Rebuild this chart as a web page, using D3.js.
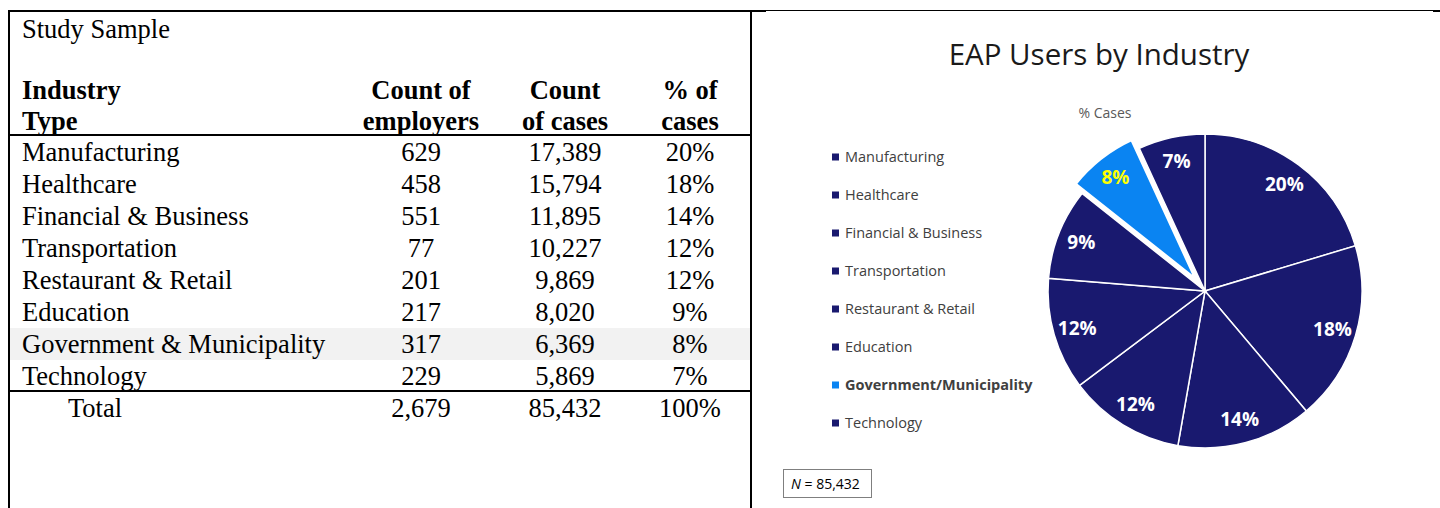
<!DOCTYPE html>
<!-- Study sample table next to a pie of EAP users by industry. -->
<meta charset="utf-8">
<style>
 body { margin: 0; background: white; }
 .cell { font-family: "Liberation Serif", "Times New Roman", serif; font-size: 26.5px; fill: black; }
 .head { font-weight: bold; }
 .rule { stroke: black; stroke-width: 2px; }
 .legend text { font-family: "Open Sans", sans-serif; font-size: 14.5px; fill: #404040; }
 .slice { stroke: white; stroke-width: 1.5px; }
 .plabel { font-family: "Open Sans", sans-serif; font-size: 19px; font-weight: bold; fill: white; }
</style>

<svg class="chart"></svg>

<script src="https://cdn.jsdelivr.net/npm/d3@7"></script>

<script>

 var industries = ["Manufacturing", "Healthcare", "Financial & Business", "Transportation",
                   "Restaurant & Retail", "Education", "Government & Municipality", "Technology"];
 var legendLabels = ["Manufacturing", "Healthcare", "Financial & Business", "Transportation",
                     "Restaurant & Retail", "Education", "Government/Municipality", "Technology"];
 var employers = [629, 458, 551, 77, 201, 217, 317, 229];
 var cases = [17389, 15794, 11895, 10227, 9869, 8020, 6369, 5869];
 var pctCases = [20, 18, 14, 12, 12, 9, 8, 7];
 var totals = ["2,679", "85,432", "100%"];
 var highlight = "Government & Municipality";

 var svg = d3.select(".chart").attr("width", 1440).attr("height", 508);

 // ---- table ----
 var fmt = d3.format(",");
 var row = d3.scaleBand().domain(industries).range([136, 392]);
 var colX = { emp: 421, cas: 565, pct: 690 };

 svg.append("rect").attr("x", 10).attr("y", row(highlight))
    .attr("width", 740).attr("height", row.bandwidth()).attr("fill", "#f2f2f2");

 svg.append("text").attr("class", "cell").attr("x", 22).attr("y", 38).text("Study Sample");

 var heads = [["Industry", "Type", 22, "start"], ["Count of", "employers", colX.emp, "middle"],
              ["Count", "of cases", colX.cas, "middle"], ["% of", "cases", colX.pct, "middle"]];
 heads.forEach(function(h) {
     svg.append("text").attr("class", "cell head").attr("x", h[2]).attr("y", 99)
        .attr("text-anchor", h[3]).text(h[0]);
     svg.append("text").attr("class", "cell head").attr("x", h[2]).attr("y", 130)
        .attr("text-anchor", h[3]).text(h[1]);
 });

 var rows = svg.selectAll(".trow").data(industries).enter().append("g")
               .attr("class", "trow")
               .attr("transform", function(d) { return "translate(0," + (row(d) + 25) + ")"; });
 rows.append("text").attr("class", "cell").attr("x", 22).text(function(d) { return d; });
 rows.append("text").attr("class", "cell").attr("x", colX.emp).attr("text-anchor", "middle")
     .text(function(d, i) { return employers[i]; });
 rows.append("text").attr("class", "cell").attr("x", colX.cas).attr("text-anchor", "middle")
     .text(function(d, i) { return fmt(cases[i]); });
 rows.append("text").attr("class", "cell").attr("x", colX.pct).attr("text-anchor", "middle")
     .text(function(d, i) { return pctCases[i] + "%"; });

 svg.append("text").attr("class", "cell").attr("x", 68).attr("y", 417).text("Total");
 [colX.emp, colX.cas, colX.pct].forEach(function(x, i) {
     svg.append("text").attr("class", "cell").attr("x", x).attr("y", 417)
        .attr("text-anchor", "middle").text(totals[i]);
 });

 // borders
 svg.append("line").attr("class", "rule").attr("x1", 8).attr("x2", 766).attr("y1", 11).attr("y2", 11);
 svg.append("line").attr("stroke", "black").attr("x1", 766).attr("x2", 1433).attr("y1", 10.5).attr("y2", 10.5);
 svg.append("line").attr("class", "rule").attr("x1", 1433).attr("x2", 1440).attr("y1", 11).attr("y2", 11);
 svg.append("line").attr("class", "rule").attr("x1", 9).attr("x2", 9).attr("y1", 10).attr("y2", 508);
 svg.append("line").attr("class", "rule").attr("x1", 751).attr("x2", 751).attr("y1", 10).attr("y2", 508);
 svg.append("line").attr("class", "rule").attr("x1", 9).attr("x2", 751).attr("y1", 135).attr("y2", 135);
 svg.append("line").attr("class", "rule").attr("x1", 9).attr("x2", 751).attr("y1", 391).attr("y2", 391);

 // ---- pie chart ----
 var navy = "#19196f", bright = "#0a84f2";
 var color = function(i) { return industries[i] == highlight ? bright : navy; };

 svg.append("text").attr("x", 1099).attr("y", 65).attr("text-anchor", "middle")
    .style("font-family", "Open Sans, sans-serif").style("font-size", "29.5px").attr("fill", "#1a1a1a")
    .text("EAP Users by Industry");
 svg.append("text").attr("x", 1105).attr("y", 118).attr("text-anchor", "middle")
    .style("font-family", "Open Sans, sans-serif").style("font-size", "14px").attr("fill", "#595959")
    .text("% Cases");

 var cx = 1205, cy = 291, r = 157, explode = 12;
 var pie = d3.pie().sort(null).value(function(d) { return d; });
 var arcs = pie(cases);
 var arc = d3.arc().innerRadius(0).outerRadius(r);

 var offset = function(d, i) {
     if (industries[i] != highlight) return [0, 0];
     var a = (d.startAngle + d.endAngle) / 2;
     return [Math.sin(a) * explode, -Math.cos(a) * explode];
 };

 var pg = svg.append("g").attr("transform", "translate(" + cx + "," + cy + ")");
 pg.selectAll(".slice").data(arcs).enter().append("path")
   .attr("class", "slice")
   .attr("d", arc)
   .attr("fill", function(d, i) { return color(i); })
   .style("stroke-width", function(d, i) { return industries[i] == highlight ? "4px" : null; })
   .attr("transform", function(d, i) { var o = offset(d, i); return "translate(" + o + ")"; });
 // bring exploded slice to the front
 pg.selectAll(".slice").filter(function(d, i) { return industries[i] == highlight; }).raise();

 var labelArc = d3.arc().innerRadius(133).outerRadius(133);
 pg.selectAll(".plabel").data(arcs).enter().append("text")
   .attr("class", "plabel")
   .attr("text-anchor", "middle").attr("dy", "0.35em")
   .style("fill", function(d, i) { return industries[i] == highlight ? "#ffff00" : null; })
   .attr("transform", function(d, i) {
       var c = labelArc.centroid(d), o = offset(d, i);
       return "translate(" + (c[0] + o[0]) + "," + (c[1] + o[1]) + ")";
   })
   .text(function(d, i) { return pctCases[i] + "%"; });

 // legend
 var ly = d3.scalePoint().domain(legendLabels).range([157, 423]);
 var lg = svg.append("g").attr("class", "legend").selectAll("g").data(legendLabels).enter().append("g")
             .attr("transform", function(d) { return "translate(832," + ly(d) + ")"; });
 lg.append("rect").attr("x", 0).attr("y", -3.5).attr("width", 7).attr("height", 7)
   .attr("fill", function(d, i) { return color(i); });
 lg.append("text").attr("x", 13).attr("dy", "0.35em")
   .style("font-weight", function(d, i) { return industries[i] == highlight ? "bold" : null; })
   .text(function(d) { return d; });

 // N box
 svg.append("rect").attr("x", 783.5).attr("y", 469.5).attr("width", 88).attr("height", 28)
    .attr("fill", "white").attr("stroke", "#7f7f7f");
 var nt = svg.append("text").attr("x", 791).attr("y", 489)
             .style("font-family", "Open Sans, sans-serif").style("font-size", "14px").attr("fill", "black");
 nt.append("tspan").style("font-style", "italic").text("N");
 nt.append("tspan").text(" = " + fmt(d3.sum(cases)));

</script>
